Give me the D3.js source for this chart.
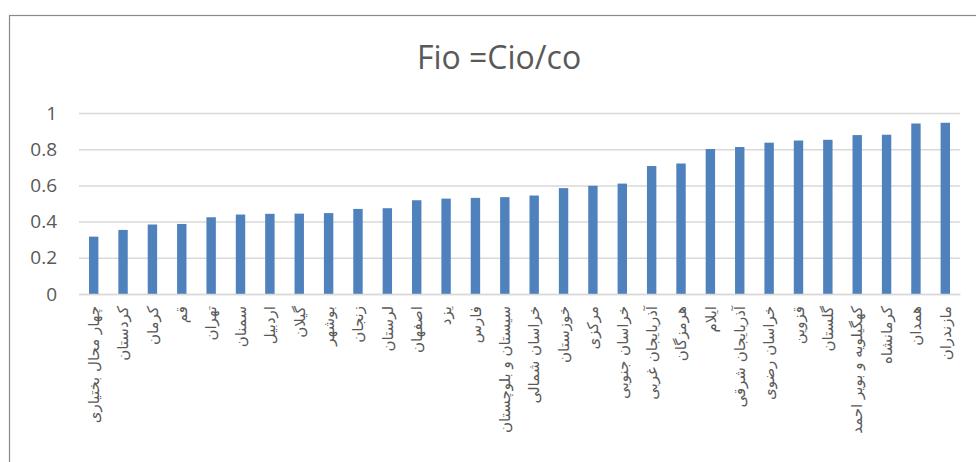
<!DOCTYPE html>
<html>
<head>
<meta charset="utf-8">
<script src="https://cdn.jsdelivr.net/npm/d3@7"></script>
<style>
  body { margin: 0; background: #fff; }
  svg { display: block; }
</style>
</head>
<body>
<svg id="chart" width="976" height="462"></svg>
<script>
// Chart data
const chartTitle = "Fio =Cio/co";
const provinces = [
  "چهار محال بختیاری", "کردستان", "کرمان", "قم", "تهران", "سمنان",
  "اردبیل", "گیلان", "بوشهر", "زنجان", "لرستان", "اصفهان", "یزد", "فارس",
  "سیستان و بلوچستان", "خراسان شمالی", "خوزستان", "مرکزی", "خراسان جنوبی",
  "آذربایجان غربی", "هرمزگان", "ایلام", "آذربایجان شرقی", "خراسان رضوی",
  "قزوین", "گلستان", "کهگیلویه و بویر احمد", "کرمانشاه", "همدان", "مازندران"
];
const fioValues = [
  0.317, 0.354, 0.384, 0.387, 0.424, 0.439, 0.443, 0.444, 0.447, 0.470,
  0.474, 0.518, 0.527, 0.531, 0.535, 0.544, 0.585, 0.598, 0.610, 0.707,
  0.721, 0.801, 0.812, 0.836, 0.848, 0.852, 0.878, 0.880, 0.942, 0.946
];
const yTicks = [0, 0.2, 0.4, 0.6, 0.8, 1];

// Plot area
var margin = { top: 113, right: 16, bottom: 168, left: 79 };
const W = 976, H = 462;
var width = W - margin.left - margin.right;
var height = H - margin.top - margin.bottom;

var svg = d3.select("#chart");

// chart border (right / bottom run off the page)
svg.append("rect")
  .attr("x", 9.5).attr("y", 15.5)
  .attr("width", 1000).attr("height", 500)
  .attr("fill", "none")
  .attr("stroke", "#898989")
  .attr("stroke-width", 1.2);

svg.append("text")
  .attr("x", 499)
  .attr("y", 69)
  .attr("text-anchor", "middle")
  .attr("fill", "#595959")
  .style("font-family", "'Open Sans', sans-serif")
  .style("font-size", "32px")
  .text(chartTitle);

var g = svg.append("g")
  .attr("transform", "translate(" + margin.left + "," + margin.top + ")");

var x = d3.scaleBand()
  .domain(provinces)
  .range([0, width])
  .paddingInner(0.68)
  .paddingOuter(0.34);

var y = d3.scaleLinear()
  .domain([0, 1])
  .range([height, 0]);

// gridlines + y labels
var yAxis = g.append("g")
  .call(d3.axisLeft(y)
    .tickValues(yTicks)
    .tickSize(-width)
    .tickPadding(22)
    .tickFormat(d => d3.format("")(d)));
yAxis.select(".domain").remove();
yAxis.selectAll(".tick line")
  .attr("stroke", "#d9d9d9")
  .attr("stroke-width", 1.5);
yAxis.selectAll(".tick text")
  .attr("fill", "#595959")
  .style("font-family", "'Open Sans', sans-serif")
  .style("font-size", "19px");

// bars
g.selectAll(".bar")
  .data(fioValues)
  .enter()
  .append("rect")
    .attr("class", "bar")
    .attr("x", (d, i) => x(provinces[i]))
    .attr("y", d => y(d))
    .attr("width", x.bandwidth())
    .attr("height", d => height - y(d))
    .attr("fill", "#4f81bd");

// category labels, rotated
var xAxis = g.append("g")
  .attr("transform", "translate(0," + height + ")")
  .call(d3.axisBottom(x).tickSize(0).tickPadding(0));
xAxis.select(".domain")
  .attr("stroke", "#d9d9d9")
  .attr("stroke-width", 1.5);
xAxis.selectAll(".tick text")
  .attr("transform", "rotate(-90)")
  .attr("x", -12)
  .attr("y", 0)
  .attr("dy", "0.35em")
  .attr("text-anchor", "end")
  .attr("fill", "#595959")
  .style("font-family", "'DejaVu Sans', sans-serif")
  .style("font-size", "15px");
</script>
</body>
</html>
